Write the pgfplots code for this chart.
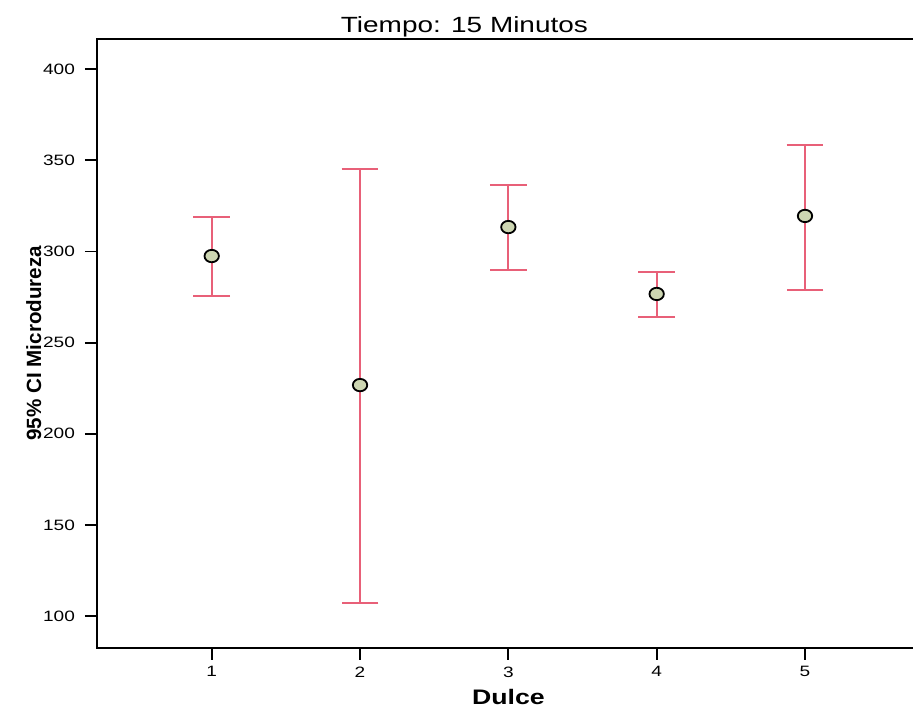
\documentclass[border=0pt]{standalone}
\usepackage{pgfplots}
\pgfplotsset{compat=1.18}
\usepackage{pgfplotstable}
\usepackage{fontspec}
\setmainfont{Liberation Sans}[FakeStretch=1.27]
\newfontfamily\plainsans{Liberation Sans}
\definecolor{errc}{RGB}{232,96,120}
\definecolor{ptfill}{RGB}{205,214,178}
\pgfplotstableread{
x y ep em
1 297.5 21.4 21.9
2 226.7 118.6 119.6
3 313.4 23.1 23.6
4 276.7 12.0 12.7
5 319.5 39.0 40.6
}\data
\begin{document}
\begin{tikzpicture}
\begin{axis}[
  width=411.35pt, height=304.25pt, scale only axis,
  xmin=0.2266, xmax=5.7734, ymin=82.7, ymax=416.6,
  xtick={1,2,3,4,5}, ytick={100,150,...,400},
  xtick pos=left, ytick pos=left,
  tick align=outside, major tick length=6pt,
  tick style={black, line width=0.9pt},
  axis line style={line width=1pt},
  minor tick num=0,
  ticklabel style={font=\fontsize{7.5}{8}\selectfont},
  yticklabel style={xshift=-1.5pt},
  /pgf/number format/assume math mode=true,
  every axis title shift=0pt,
  title={Tiempo: 15 Minutos},
  title style={font=\fontsize{11}{13}\selectfont, at={(axis description cs:0.4466,1)}, anchor=base, yshift=3pt},
  xlabel={Dulce},
  xlabel style={font=\fontsize{10.5}{12}\selectfont\bfseries, at={(axis description cs:0.5,0)}, anchor=base, yshift=-28.5pt},
  ylabel={95\% CI Microdureza},
  ylabel style={font=\plainsans\fontsize{10.3}{12}\selectfont\bfseries, at={(axis description cs:-0.068,0.5)}, anchor=base},
]
\addplot[draw=none, mark=none,
  error bars/.cd, y dir=both, y explicit,
  error bar style={draw=errc, line width=1pt},
  error mark options={rotate=90, draw=errc, line width=1pt, mark size=9.2pt}]
  table[x=x, y=y, y error plus=ep, y error minus=em] {\data};
\addplot[only marks, mark=*, mark size=3.1pt,
  mark options={xscale=1.16, fill=ptfill, draw=black, line width=0.9pt}]
  table[x=x, y=y] {\data};
\end{axis}
\pgfresetboundingbox
\path (current axis.south west) ++(-48.5pt,-29.25pt) rectangle ([shift={(408pt,323.75pt)}]current axis.south west);
\end{tikzpicture}
\end{document}
